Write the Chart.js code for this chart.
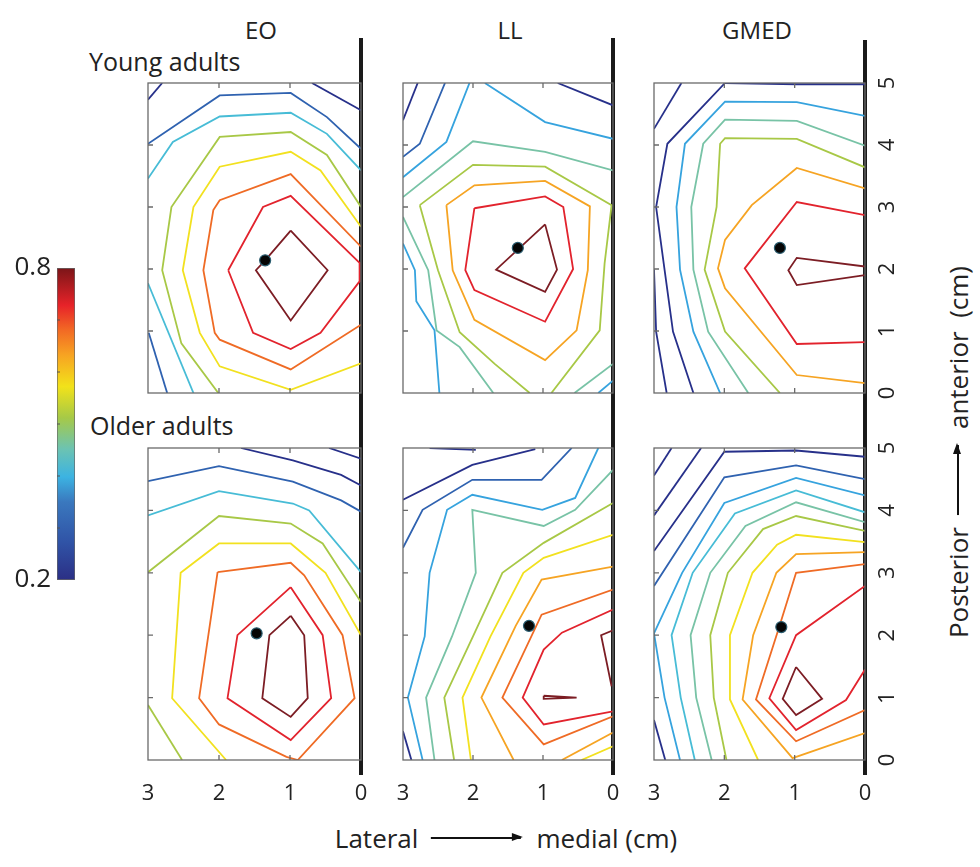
<!DOCTYPE html>
<html>
<head>
<meta charset="utf-8">
<script src="https://cdn.jsdelivr.net/npm/chart.js@4.4.1/dist/chart.umd.min.js"></script>
<style>
  body { margin: 0; width: 980px; height: 867px; background: #fff; position: relative; overflow: hidden;
         font-family: "Open Sans", sans-serif; color: #222; }
  canvas { position: absolute; }
  .title { position: absolute; font-size: 24px; line-height: 1; transform: translate(-50%, -50%); white-space: nowrap; }
  .rowlab { position: absolute; font-size: 25px; line-height: 1; white-space: nowrap; }
  .vline { position: absolute; width: 4px; background: #1a1a1a; }
  .axlab { position: absolute; font-size: 26px; line-height: 1; white-space: nowrap; display: flex; align-items: center; }
  .arrow { display: inline-block; width: 90px; height: 1.6px; background: #111; position: relative; margin: 0 16px 0 12px; }
  .arrow.short { width: 70px; }
  .arrow::after { content: ""; position: absolute; right: -2px; top: -4px; border-left: 11px solid #111;
                  border-top: 4.8px solid transparent; border-bottom: 4.8px solid transparent; }
</style>
</head>
<body>

<div class="title" style="left:261px; top:30px;">EO</div>
<div class="title" style="left:510px; top:30px;">LL</div>
<div class="title" style="left:757px; top:30px;">GMED</div>
<div class="rowlab" style="left:89px; top:49px;">Young adults</div>
<div class="rowlab" style="left:90px; top:413px;">Older adults</div>

<div class="vline" style="left:359px; top:38px; height:737px;"></div>
<div class="vline" style="left:611px; top:38px; height:737px;"></div>
<div class="vline" style="left:863px; top:40px; height:735px;"></div>

<div class="axlab" style="left:506px; top:838px; transform:translate(-50%,-50%);">Lateral<span class="arrow"></span>medial (cm)</div>
<div class="axlab" style="left:958px; top:452px; transform:translate(-50%,-50%) rotate(-90deg);">Posterior<span class="arrow short"></span>anterior&nbsp;&nbsp;(cm)</div>

<script>
// contour levels (correlation) and their colours
const contourLevels = [0.25, 0.30, 0.35, 0.40, 0.45, 0.50, 0.55, 0.60, 0.65, 0.70, 0.75];
const levelColors = ["#27308a", "#2f62b0", "#36a3de", "#47bcd6", "#78c3a6", "#a8c846",
                     "#f2e11f", "#f6a423", "#ef6b25", "#e2232d", "#7c1d24"];

// tick values (cm)
const xTicks = [0, 1, 2, 3];
const yTicks = [0, 1, 2, 3, 4, 5];
const cbLabels = [0.2, 0.8];
const cbMinor = [0.3, 0.4, 0.5, 0.6, 0.7];

// contour lines: [level index, [[lateral cm, anterior cm], ...]]
const eoYoung = [
  [0, [[3.0, 4.73], [2.80, 5.0]]],
  [0, [[0.69, 5.0], [0, 4.56]]],
  [1, [[3.0, 4.02], [1.99, 4.80], [0.99, 4.84], [0.48, 4.45], [0, 3.94]]],
  [1, [[2.99, 0.97], [2.73, 0.0]]],
  [3, [[3.0, 3.46], [2.65, 4.05], [1.99, 4.46], [0.99, 4.52], [0.48, 4.18], [0, 3.59]]],
  [3, [[3.0, 1.77], [2.36, 0.0]]],
  [5, [[0, 3.0], [0.48, 3.84], [0.99, 4.21], [1.99, 4.13], [2.67, 3.0], [2.80, 1.98], [2.53, 0.80], [2.01, 0.0]]],
  [6, [[0, 2.68], [0.57, 3.59], [0.99, 3.89], [1.99, 3.65], [2.36, 3.0], [2.51, 1.98], [2.27, 0.97], [1.99, 0.43], [0.99, 0.05], [0, 0.48]]],
  [8, [[0, 2.36], [0.99, 3.53], [1.99, 3.11], [2.08, 2.95], [2.22, 1.98], [2.06, 0.97], [1.99, 0.86], [0.99, 0.38], [0, 1.10]]],
  [9, [[1.87, 1.98], [1.38, 3.0], [0.99, 3.18], [0.02, 2.1], [0.02, 1.8], [0.57, 0.97], [0.99, 0.71], [1.52, 0.97], [1.87, 1.98]]],
  [10, [[0.99, 2.62], [0.47, 1.98], [0.99, 1.17], [1.48, 1.98], [1.35, 2.14], [0.99, 2.62]]]
];
const llYoung = [
  [0, [[3.0, 4.40], [2.79, 5.0]]],
  [1, [[3.0, 3.81], [2.76, 4.02], [2.40, 5.0]]],
  [0, [[0.79, 5.0], [0, 4.64]]],
  [2, [[3.0, 3.48], [2.38, 4.05], [2.05, 5.0]]],
  [2, [[1.83, 5.0], [0.97, 4.37], [0, 4.10]]],
  [2, [[3.0, 2.41], [2.83, 1.98], [2.81, 1.48], [2.55, 1.01], [2.48, 0.0]]],
  [2, [[0.21, 0.0], [0, 0.2]]],
  [4, [[3.0, 3.16], [2.0, 4.06], [0.97, 3.89], [0, 3.59]]],
  [4, [[3.0, 2.84], [2.64, 1.98], [2.52, 1.01], [2.19, 0.74], [1.71, 0.0]]],
  [4, [[0.55, 0.0], [0, 0.47]]],
  [5, [[2.76, 3.03], [2.0, 3.68], [0.97, 3.65], [0.02, 3.03], [0.12, 2.09], [0.19, 1.01], [0.88, 0.0]]],
  [5, [[2.76, 3.03], [2.5, 1.98], [2.19, 0.98], [1.69, 0.47], [1.19, 0.0]]],
  [7, [[2.38, 3.03], [1.98, 3.35], [0.97, 3.42], [0.33, 3.01], [0.36, 1.98], [0.52, 1.01], [0.97, 0.53], [1.98, 1.18], [2.29, 1.98], [2.38, 3.03]]],
  [9, [[1.98, 2.98], [0.97, 3.17], [0.71, 3.0], [0.57, 2.0], [0.97, 1.15], [1.98, 1.66], [2.11, 1.98], [1.98, 2.98]]],
  [10, [[0.97, 2.72], [0.80, 1.99], [0.97, 1.63], [1.67, 1.99], [0.97, 2.72]]]
];
const gmedYoung = [
  [0, [[3.0, 4.26], [2.61, 5.0]]],
  [0, [[1.99, 5.0], [0.97, 4.98], [0, 4.98]]],
  [0, [[1.99, 5.0], [2.81, 4.02], [2.97, 3.0], [2.85, 1.99], [2.73, 0.99], [2.44, 0.0]]],
  [0, [[3.0, 1.99], [2.97, 0.99], [2.82, 0.0]]],
  [2, [[0, 4.47], [0.97, 4.69], [1.99, 4.70], [2.56, 4.02], [2.68, 3.0], [2.63, 1.99], [2.44, 0.99], [2.06, 0.0]]],
  [4, [[0, 3.99], [0.97, 4.39], [1.99, 4.41], [2.30, 4.02], [2.47, 3.0], [2.44, 1.99], [2.23, 0.99], [1.66, 0.0]]],
  [5, [[0, 3.64], [0.97, 4.10], [1.99, 4.11], [2.06, 4.02], [2.11, 3.0], [2.28, 1.99], [1.99, 0.99], [1.21, 0.0]]],
  [7, [[0, 3.30], [0.97, 3.63], [1.61, 3.03], [1.99, 2.47], [2.09, 2.01], [1.99, 1.69], [0.97, 0.29], [0, 0.16]]],
  [9, [[0, 2.87], [0.97, 3.08], [1.71, 2.01], [0.97, 0.79], [0, 0.82]]],
  [10, [[0, 2.04], [0.97, 2.18], [1.09, 1.98], [0.97, 1.74], [0, 1.90]]]
];
const eoOlder = [
  [0, [[1.69, 5.0], [0.96, 4.80], [0.28, 4.57], [0, 4.40]]],
  [0, [[0.45, 5.0], [0, 4.83]]],
  [1, [[3.0, 4.47], [2.0, 4.71], [0.96, 4.46], [0.28, 4.16], [0, 3.98]]],
  [3, [[3.0, 3.92], [2.0, 4.31], [0.96, 4.11], [0.73, 4.0], [0, 3.01]]],
  [5, [[3.0, 3.01], [2.0, 3.91], [0.99, 3.79], [0.54, 3.47], [0, 2.53]]],
  [5, [[3.0, 0.88], [2.52, 0.0]]],
  [6, [[0, 2.0], [0.5, 3.0], [0.99, 3.47], [2.0, 3.47], [2.54, 3.0], [2.66, 0.99], [1.90, 0.0]]],
  [8, [[2.02, 3.01], [0.99, 3.16], [0.80, 2.96], [0.26, 2.0], [0.09, 0.99], [0.89, 0.0], [1.05, 0.05], [2.0, 0.57], [2.28, 0.99], [2.02, 3.01]]],
  [9, [[0.99, 2.77], [0.54, 2.0], [0.42, 0.99], [0.99, 0.32], [1.88, 0.99], [1.74, 2.0], [0.99, 2.77]]],
  [10, [[0.99, 2.31], [0.80, 2.0], [0.75, 0.99], [0.99, 0.69], [1.39, 0.99], [1.29, 2.0], [0.99, 2.31]]]
];
const llOlder = [
  [0, [[2.62, 5.0], [1.96, 4.97]]],
  [0, [[3.0, 4.17], [2.01, 4.73], [1.11, 4.98]]],
  [1, [[3.0, 3.40], [2.72, 4.01], [2.01, 4.49], [1.02, 4.49], [0.59, 5.0]]],
  [0, [[3.0, 0.46], [2.88, 0.0]]],
  [2, [[0.21, 5.0], [0.54, 4.2], [1.01, 4.01], [2.01, 4.25], [2.37, 4.01], [2.62, 3.0], [2.69, 1.98], [2.93, 1.0], [2.72, 0.0]]],
  [4, [[0, 4.65], [0.54, 4.01], [0.99, 3.75], [2.01, 4.01], [1.96, 3.0], [2.3, 1.98], [2.67, 1.0], [2.55, 0.0]]],
  [5, [[0, 4.12], [0.99, 3.48], [1.58, 3.0], [2.0, 1.98], [2.41, 1.0], [2.27, 0.0]]],
  [6, [[0, 3.61], [0.99, 3.24], [1.28, 3.0], [1.75, 1.98], [2.15, 1.0], [2.03, 0.0]]],
  [6, [[0.45, 0.0], [0, 0.22]]],
  [7, [[0, 3.1], [1.02, 2.89], [1.39, 2.15], [1.88, 1.0], [1.42, 0.0]]],
  [7, [[0.73, 0.0], [0, 0.44]]],
  [8, [[0, 2.73], [1.02, 2.33], [1.58, 1.0], [0.99, 0.25], [0, 0.7]]],
  [9, [[0, 2.41], [0.73, 2.04], [0.99, 1.77], [1.29, 1.0], [0.99, 0.57], [0, 0.78]]],
  [10, [[0.02, 1.18], [0.17, 2.0], [0, 2.08]]],
  [10, [[0.99, 1.03], [0.52, 1.0], [0.99, 0.98], [0.99, 1.03]]]
];
const gmedOlder = [
  [0, [[3.0, 4.56], [2.75, 5.0]]],
  [0, [[3.0, 3.92], [2.33, 5.0]]],
  [0, [[3.0, 3.35], [2.0, 4.94], [0.98, 4.96], [0, 4.86]]],
  [0, [[3.0, 0.64], [2.84, 0.0]]],
  [1, [[3.0, 2.79], [2.0, 4.53], [0.98, 4.72], [0, 4.50]]],
  [2, [[2.63, 0.0], [2.85, 1.0], [3.0, 2.03], [2.6, 3.0], [2.0, 4.12], [0.98, 4.52], [0, 4.24]]],
  [3, [[2.42, 0.0], [2.62, 1.0], [2.75, 2.0], [2.45, 3.0], [1.85, 3.95], [0.98, 4.32], [0, 3.97]]],
  [4, [[2.18, 0.0], [2.4, 1.0], [2.48, 2.0], [2.2, 3.0], [1.7, 3.75], [0.98, 4.13], [0, 3.81]]],
  [5, [[1.97, 0.0], [2.15, 1.0], [2.2, 2.0], [1.95, 3.0], [1.45, 3.7], [0.98, 3.91], [0, 3.67]]],
  [6, [[1.52, 0.0], [1.92, 0.97], [1.92, 2.0], [1.6, 3.0], [1.25, 3.45], [0.98, 3.61], [0, 3.49]]],
  [7, [[0, 3.33], [0.98, 3.30], [1.26, 3.0], [1.59, 2.0], [1.74, 0.97], [1.03, 0.03], [0, 0.43]]],
  [8, [[0, 3.14], [0.98, 3.0], [1.22, 2.13], [1.55, 0.97], [0.98, 0.30], [0, 0.80]]],
  [9, [[0, 2.79], [0.98, 2.0], [1.36, 0.99], [0.98, 0.48], [0.27, 0.96], [0, 1.45]]],
  [10, [[0.98, 1.49], [0.61, 0.98], [0.98, 0.72], [1.17, 0.98], [0.98, 1.49]]]
];

// black dots (centre of activity) per panel
const eoYoungDot = [1.35, 2.14];
const llYoungDot = [1.36, 2.34];
const gmedYoungDot = [1.21, 2.34];
const eoOlderDot = [1.47, 2.03];
const llOlderDot = [1.20, 2.15];
const gmedOlderDot = [1.19, 2.13];

Chart.defaults.font.family = '"Open Sans", sans-serif';
Chart.defaults.color = "#222";

// box around each plot with small inward tick marks
const framePlugin = {
  id: "frame",
  afterDatasetsDraw(chart) {
    const { ctx, chartArea: a, scales: { x, y } } = chart;
    ctx.save();
    ctx.strokeStyle = "#6a6a6a";
    ctx.lineWidth = 1.3;
    ctx.strokeRect(a.left, a.top, a.width, a.height);
    ctx.beginPath();
    xTicks.slice(1, -1).forEach(v => {
      const px = x.getPixelForValue(v);
      ctx.moveTo(px, a.top); ctx.lineTo(px, a.top + 5);
      ctx.moveTo(px, a.bottom); ctx.lineTo(px, a.bottom - 5);
    });
    yTicks.slice(1, -1).forEach(v => {
      const py = y.getPixelForValue(v);
      ctx.moveTo(a.left, py); ctx.lineTo(a.left + 5, py);
    });
    ctx.stroke();
    ctx.restore();
  }
};

const boxLeft = [148, 403, 654];
const boxWidth = [213, 210, 211];
const boxTop = [83, 448];
const boxHeight = [310, 312];
const pad = 18;

function drawPanel(lines, dot, col, row) {
  const isRight = col === 2;
  const isBottom = row === 1;
  const cv = document.createElement("canvas");
  cv.width = pad + boxWidth[col] + (isRight ? 45 : pad);
  cv.height = pad + boxHeight[row] + (isBottom ? 50 : pad);
  cv.style.left = (boxLeft[col] - pad) + "px";
  cv.style.top = (boxTop[row] - pad) + "px";
  document.body.appendChild(cv);

  const datasets = lines.map(([lvl, pts]) => ({
    data: pts.map(([x, y]) => ({ x, y })),
    showLine: true,
    borderColor: levelColors[lvl],
    borderWidth: 1.8,
    pointRadius: 0,
    tension: 0,
    order: 1
  }));
  datasets.push({
    data: [{ x: dot[0], y: dot[1] }],
    pointRadius: 5.5,
    pointBackgroundColor: "#050505",
    pointBorderColor: "#2b5d70",
    pointBorderWidth: 1.2,
    order: 0
  });

  new Chart(cv, {
    type: "scatter",
    data: { datasets },
    options: {
      responsive: false,
      animation: false,
      layout: {
        padding: { left: pad, top: pad, right: isRight ? 0 : pad, bottom: isBottom ? 0 : pad }
      },
      plugins: { legend: { display: false }, tooltip: { enabled: false } },
      scales: {
        x: {
          type: "linear",
          min: 0, max: 3,
          reverse: true,
          display: isBottom,
          grid: { display: false, drawTicks: true, tickLength: 21 },
          border: { display: false },
          ticks: { padding: 0, font: { size: 22 }, color: "#222" },
          afterBuildTicks: s => { s.ticks = xTicks.map(v => ({ value: v })); },
          afterFit: s => { if (isBottom) s.height = 50; }
        },
        y: {
          type: "linear",
          position: "right",
          min: 0, max: 5,
          display: isRight,
          grid: { display: false, drawTicks: true, tickLength: 16 },
          border: { display: false },
          ticks: { padding: 0, crossAlign: "center", minRotation: 90, maxRotation: 90, font: { size: 22 }, color: "#222" },
          afterBuildTicks: s => { s.ticks = yTicks.map(v => ({ value: v })); },
          afterFit: s => { if (isRight) s.width = 45; }
        }
      }
    },
    plugins: [framePlugin]
  });
}

drawPanel(eoYoung, eoYoungDot, 0, 0);
drawPanel(llYoung, llYoungDot, 1, 0);
drawPanel(gmedYoung, gmedYoungDot, 2, 0);
drawPanel(eoOlder, eoOlderDot, 0, 1);
drawPanel(llOlder, llOlderDot, 1, 1);
drawPanel(gmedOlder, gmedOlderDot, 2, 1);

// colour bar
const jetStops = [
  [0, "#2b2f85"], [0.12, "#3053a6"], [0.25, "#3a78be"], [0.33, "#3cb3e2"], [0.42, "#6cc3b2"],
  [0.52, "#a6c947"], [0.62, "#f2e21a"], [0.72, "#f7a422"], [0.8, "#f26a24"], [0.88, "#e72329"], [1, "#7b1518"]
];

const cbMinorPlugin = {
  id: "cbMinor",
  afterDatasetsDraw(chart) {
    const { ctx, chartArea: a, scales: { y } } = chart;
    ctx.save();
    ctx.strokeStyle = "#555";
    ctx.lineWidth = 1;
    ctx.beginPath();
    cbMinor.forEach(v => {
      const py = y.getPixelForValue(v);
      ctx.moveTo(a.left, py); ctx.lineTo(a.left + 3, py);
    });
    ctx.stroke();
    ctx.restore();
  }
};

const cb = document.createElement("canvas");
cb.width = 82;
cb.height = 348;
cb.style.left = "0px";
cb.style.top = "250px";
document.body.appendChild(cb);

new Chart(cb, {
  type: "bar",
  data: {
    labels: [""],
    datasets: [{
      data: [[cbLabels[0], cbLabels[1]]],
      backgroundColor: c => {
        const a = c.chart.chartArea;
        if (!a) return "#888";
        const g = c.chart.ctx.createLinearGradient(0, a.bottom, 0, a.top);
        jetStops.forEach(([t, col]) => g.addColorStop(t, col));
        return g;
      },
      borderColor: "#666",
      borderWidth: 1,
      borderSkipped: false,
      barPercentage: 1,
      categoryPercentage: 1
    }]
  },
  options: {
    responsive: false,
    animation: false,
    layout: { padding: { top: 18, bottom: 18, left: 0, right: 7 } },
    plugins: { legend: { display: false }, tooltip: { enabled: false } },
    scales: {
      x: { display: false },
      y: {
        min: 0.2, max: 0.8,
        grid: { display: false, drawTicks: true, tickLength: 6 },
        border: { display: false },
        ticks: { padding: 0, font: { size: 26 }, color: "#222" },
        afterBuildTicks: s => { s.ticks = cbLabels.map(v => ({ value: v })); },
        afterFit: s => { s.width = 57; }
      }
    }
  },
  plugins: [cbMinorPlugin]
});
</script>
</body>
</html>
